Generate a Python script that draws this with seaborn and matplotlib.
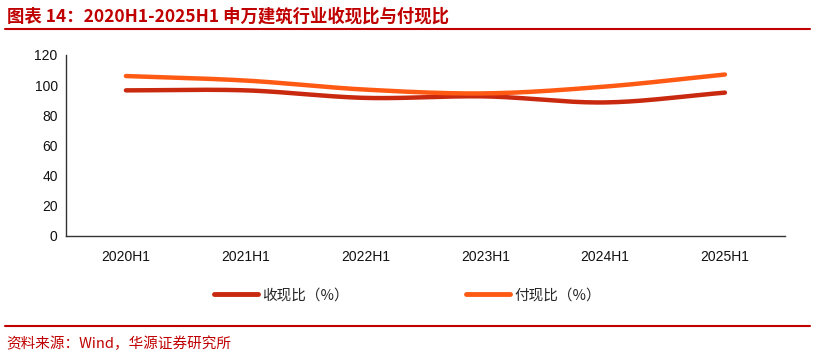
# Recreate the 收现比 / 付现比 line chart.

import numpy as np
import pandas as pd
import matplotlib
matplotlib.use("Agg")
import matplotlib.pyplot as plt
import seaborn as sns

# Category labels on the x-axis.
periods = ["2020H1", "2021H1", "2022H1", "2023H1", "2024H1", "2025H1"]

# Cash received ratio (%).
receive_ratio = [96.5, 96.5, 91.5, 92.5, 88.5, 95.0]

# Cash paid ratio (%).
pay_ratio = [106.0, 103.0, 97.0, 94.5, 99.0, 107.0]

# Series names and colours.
series_names = ["收现比（%）", "付现比（%）"]
series_colors = ["#C8290F", "#FF5A14"]

title_text = "图表 14：2020H1-2025H1 申万建筑行业收现比与付现比"
source_text = "资料来源：Wind，华源证券研究所"
red = "#C00000"


def smooth(values, steps=30):
    # Catmull-Rom style smoothing, similar to a smoothed office chart line.
    y = np.asarray(values, dtype=float)
    x = np.arange(len(y), dtype=float)
    px = np.concatenate([[2 * x[0] - x[1]], x, [2 * x[-1] - x[-2]]])
    py = np.concatenate([[2 * y[0] - y[1]], y, [2 * y[-1] - y[-2]]])
    xs, ys = [], []
    for i in range(1, len(px) - 2):
        t = np.linspace(0, 1, steps, endpoint=False)
        for arr, out in ((px, xs), (py, ys)):
            p0, p1, p2, p3 = arr[i - 1], arr[i], arr[i + 1], arr[i + 2]
            out.extend(0.5 * ((2 * p1) + (-p0 + p2) * t
                              + (2 * p0 - 5 * p1 + 4 * p2 - p3) * t ** 2
                              + (-p0 + 3 * p1 - 3 * p2 + p3) * t ** 3))
    xs.append(x[-1])
    ys.append(y[-1])
    return np.array(xs), np.array(ys)


# Build a long table of smoothed curves for seaborn.
frames = []
for name, vals in zip(series_names, [receive_ratio, pay_ratio]):
    sx, sy = smooth(vals)
    frames.append(pd.DataFrame({"x": sx, "y": sy, "series": name}))
df = pd.concat(frames, ignore_index=True)

sns.set_theme(style="white")
plt.rcParams["font.family"] = ["Liberation Sans", "Noto Sans CJK SC", "DejaVu Sans"]

fig = plt.figure(figsize=(8.15, 3.59), dpi=100)
ax = fig.add_axes([0.081, 0.343, 0.882, 0.504])

sns.lineplot(data=df, x="x", y="y", hue="series", palette=series_colors,
             linewidth=3.2, ax=ax, legend=False, sort=False, estimator=None)

# Axis limits and ticks.
ax.set_xlim(-0.5, len(periods) - 0.5)
ax.set_ylim(0, 120)
ax.set_yticks(range(0, 121, 20))
ax.set_xticks(range(len(periods)))
ax.set_xticklabels(periods)
ax.set_xticks(np.arange(-0.5, len(periods), 1.0), minor=True)
ax.tick_params(axis="x", which="major", length=0, pad=10, labelsize=10, colors="#111111")
ax.tick_params(axis="x", which="minor", length=5, width=1, color="#333333", direction="out")
ax.tick_params(axis="y", length=4, width=1, color="#333333", direction="out",
               labelsize=10, labelcolor="#111111", pad=2)
ax.set_xlabel("")
ax.set_ylabel("")
for side in ["top", "right"]:
    ax.spines[side].set_visible(False)
for side in ["left", "bottom"]:
    ax.spines[side].set_color("#333333")
    ax.spines[side].set_linewidth(1)

# Legend drawn with proxy handles.
handles = [plt.Line2D([], [], color=c, linewidth=3.5) for c in series_colors]
fig.legend(handles, series_names, loc="center", bbox_to_anchor=(0.5, 0.178),
           ncol=2, frameon=False, handlelength=3.0, columnspacing=8,
           handletextpad=0.3, prop={"family": ["Noto Sans CJK SC"], "size": 10.5})

# Title and source with red rules.
fig.text(0.008, 0.955, title_text, color=red, fontsize=12.5, fontweight="bold",
         ha="left", va="center", family=["Noto Sans CJK SC", "DejaVu Sans"])
fig.add_artist(plt.Line2D([0.006, 0.994], [0.918, 0.918], color=red, linewidth=1.5))
fig.add_artist(plt.Line2D([0.006, 0.994], [0.092, 0.092], color=red, linewidth=1.5))
fig.text(0.008, 0.042, source_text, color=red, fontsize=10.5,
         ha="left", va="center", family=["Noto Sans CJK SC", "DejaVu Sans"])

fig.savefig("out.png", dpi=100)
plt.close(fig)
